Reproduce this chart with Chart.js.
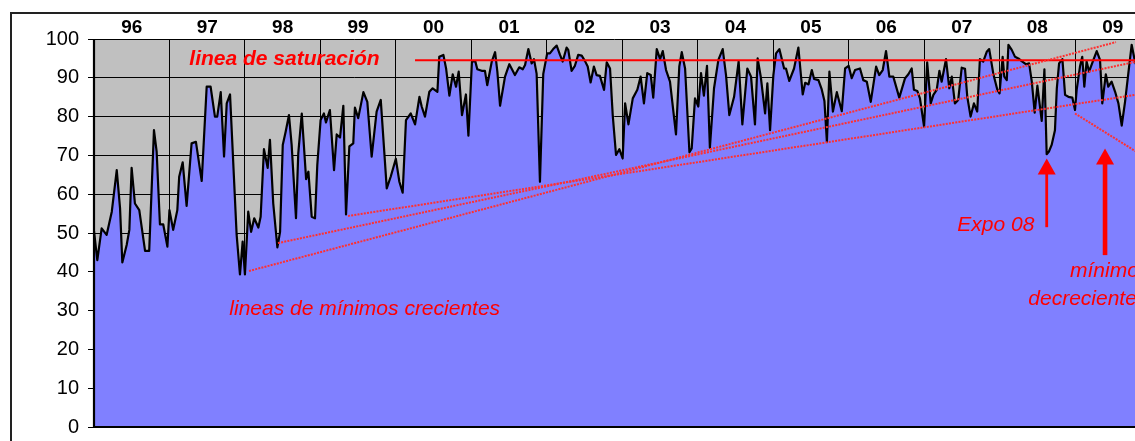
<!DOCTYPE html>
<html>
<head>
<meta charset="utf-8">
<script src="https://cdn.jsdelivr.net/npm/chart.js@4/dist/chart.umd.min.js"></script>
<style>
html,body{margin:0;padding:0;background:#fff;overflow:hidden;}
canvas{display:block;}
</style>
</head>
<body>
<canvas id="c" width="1135" height="441"></canvas>
<script>
// ---- DATA: [day of year, occupancy %] ----
const y1996 = [[0,50.5],[16,43.0],[37,51.2],[61,49.5],[86,55.5],[110,66.2],[126,56.4],[137,42.4],[158,46.9],[171,50.8],[182,66.8],[198,57.6],[219,55.9],[247,45.4],[267,45.4],[290,76.5],[303,71.0],[319,52.2],[335,52.2],[355,46.5]];
const y1997 = [[0,55.9],[18,50.8],[38,55.9],[47,64.5],[64,68.2],[83,57.0],[107,73.1],[128,73.5],[156,63.4],[180,87.7],[199,87.7],[220,80.0],[231,80.0],[248,86.3],[264,69.7],[277,83.4],[293,85.7],[325,49.5],[341,39.3],[354,47.8]];
const y1998 = [[0,39.3],[16,55.5],[30,50.3],[45,53.8],[65,51.4],[76,54.2],[92,71.6],[110,66.8],[121,74.0],[137,57.6],[157,46.3],[170,50.3],[183,72.7],[197,76.1],[213,80.4],[226,72.7],[247,53.8],[258,70.5],[275,80.8],[296,63.9],[307,65.8],[323,54.2],[339,53.8],[350,67.5]];
const y1999 = [[1,79.1],[17,80.8],[27,78.5],[46,81.7],[66,66.2],[79,75.4],[95,74.6],[111,82.8],[124,54.8],[140,72.3],[159,73.1],[167,82.3],[183,79.6],[208,86.3],[227,83.8],[248,69.7],[272,81.3],[292,84.3],[321,61.5],[340,64.5]];
const y2000 = [[0,69.1],[17,63.2],[33,60.4],[49,79.1],[72,80.8],[93,78.0],[114,85.1],[125,82.6],[141,80.0],[162,86.4],[178,87.3],[201,86.4],[210,95.4],[230,95.9],[243,92.4],[259,85.4],[275,90.9],[291,87.7],[304,91.6],[320,80.4],[339,85.7],[351,75.1]];
const y2001 = [[3,94.2],[19,94.3],[29,92.2],[50,91.8],[66,91.8],[77,88.1],[99,94.2],[115,96.6],[126,91.6],[139,82.8],[163,90.3],[184,93.5],[211,90.7],[232,92.7],[249,92.2],[260,93.3],[276,97.4],[292,93.7],[303,94.8],[316,91.0],[332,63.2],[348,91.0]];
const y2002 = [[2,96.3],[15,96.3],[31,97.4],[48,98.3],[64,95.9],[77,94.2],[96,97.8],[104,97.2],[120,91.8],[136,93.1],[152,95.9],[169,95.7],[185,94.3],[198,92.9],[212,88.8],[228,92.9],[241,90.7],[257,90.5],[277,86.9],[290,94.0],[306,92.4],[319,80.4],[335,70.1],[351,71.6]];
const y2003 = [[2,69.2],[14,83.4],[30,78.0],[51,84.7],[73,86.9],[89,90.3],[105,83.4],[121,91.2],[138,90.7],[150,84.9],[167,97.4],[183,94.8],[196,96.9],[212,92.0],[231,89.0],[260,75.4],[276,92.9],[288,96.6],[304,92.4],[325,70.8],[336,71.8],[352,84.7]];
const y2004 = [[3,82.6],[16,91.2],[30,85.4],[45,93.1],[59,72.0],[79,87.3],[100,94.6],[121,97.4],[137,90.7],[153,80.4],[176,85.1],[198,94.2],[216,78.0],[240,92.4],[258,90.3],[277,78.0],[290,95.0],[305,90.3],[326,80.8],[337,88.6],[350,76.5]];
const y2005 = [[1,90.7],[14,96.3],[30,97.4],[53,92.4],[62,92.4],[78,89.2],[101,92.4],[122,97.8],[143,85.7],[155,88.7],[171,88.3],[187,92.0],[198,89.7],[219,89.4],[235,87.0],[248,84.0],[260,73.5],[272,91.6],[289,81.3],[308,86.3],[332,81.4],[348,92.4]];
const y2006 = [[0,93.1],[15,89.9],[31,92.0],[55,92.4],[71,89.4],[88,89.0],[107,83.8],[133,92.9],[148,90.7],[165,92.0],[181,96.9],[197,90.3],[216,90.3],[245,84.9],[273,89.9],[289,90.9],[305,92.4],[316,86.9],[332,86.6],[345,84.7]];
const y2007 = [[0,77.4],[15,94.0],[32,83.4],[45,85.6],[61,86.9],[74,91.8],[85,89.0],[106,94.8],[122,87.3],[134,90.3],[149,83.4],[165,84.3],[182,92.6],[198,92.3],[209,85.1],[225,80.0],[241,83.4],[257,81.3],[270,94.8],[286,94.2],[303,96.7],[315,97.4],[335,91.0],[354,87.0]];
const y2008 = [[0,86.0],[15,95.4],[23,90.3],[35,89.4],[43,98.5],[59,97.2],[75,95.4],[91,95.0],[107,94.3],[127,93.5],[143,93.7],[156,89.0],[170,81.0],[183,88.0],[204,78.9],[217,92.2],[228,70.3],[239,71.0],[252,72.7],[268,76.5],[277,87.3],[288,93.7],[304,94.8],[317,85.6],[333,85.1],[352,84.9]];
const y2009 = [[0,81.7],[8,86.9],[24,92.9],[35,95.4],[45,87.7],[56,94.2],[68,91.6],[77,92.9],[89,94.6],[105,96.9],[121,94.6],[132,83.4],[149,90.9],[161,87.7],[177,89.0],[194,86.4],[210,83.4],[226,77.7],[242,83.8],[258,91.2],[274,98.5],[290,94.2],[305,92.0]];

const years = [1996,1997,1998,1999,2000,2001,2002,2003,2004,2005,2006,2007,2008,2009];
const yearLabels = ['96','97','98','99','00','01','02','03','04','05','06','07','08','09'];
const yTicks = [0,10,20,30,40,50,60,70,80,90,100];
const xMax = 2009.795;

// ---- annotations (data space) ----
const saturation = {from:[2000.254,94.5], to:[2009.8,94.5]};
const minLines = [
  {from:[1998.054,40.2], to:[2009.543,99.2]},
  {from:[1998.438,47.4], to:[2009.8,94.1]},
  {from:[1999.366,54.4], to:[2009.8,85.6]}
];
const decLine = {from:[2009.0,80.8], to:[2009.8,71.1]};
const arrows = [
  {x:2008.625, tip:69.2, tail:51.5, shaft:2.8},
  {x:2009.398, tip:71.8, tail:44.3, shaft:4.6}
];
const labels = [
  {text:'linea de saturación', x:1997.263, y:93.3, bold:true},
  {text:'lineas de mínimos crecientes', x:1997.793, y:28.9},
  {text:'Expo 08', x:2007.44, y:50.6},
  {text:'mínimos', x:2008.934, y:38.7},
  {text:'decrecientes', x:2008.381, y:31.4}
];

const series = [[1996,y1996],[1997,y1997],[1998,y1998],[1999,y1999],[2000,y2000],[2001,y2001],[2002,y2002],[2003,y2003],[2004,y2004],[2005,y2005],[2006,y2006],[2007,y2007],[2008,y2008],[2009,y2009]];
const points = series.flatMap(([yr, arr]) => arr.map(([d, v]) => ({x: yr + d/365, y: v})));

const FONT = '"Liberation Sans", Arial, sans-serif';

const bgPlugin = {
  id: 'bg',
  beforeDraw(chart) {
    const {ctx, chartArea: a} = chart;
    ctx.save();
    ctx.fillStyle = '#fff';
    ctx.fillRect(0, 0, chart.width, chart.height);
    ctx.strokeStyle = '#222';
    ctx.lineWidth = 2;
    ctx.beginPath();
    ctx.moveTo(11, chart.height + 5);
    ctx.lineTo(11, 13);
    ctx.lineTo(chart.width + 5, 13);
    ctx.stroke();
    ctx.fillStyle = '#c0c0c0';
    ctx.fillRect(a.left, a.top, a.right - a.left, a.bottom - a.top);
    ctx.restore();
  }
};

const annoPlugin = {
  id: 'anno',
  afterDatasetsDraw(chart) {
    const {ctx, chartArea: a} = chart;
    const xs = chart.scales.x, ys = chart.scales.y;
    const px = v => xs.getPixelForValue(v), py = v => ys.getPixelForValue(v);
    ctx.save();
    // axis lines
    ctx.strokeStyle = '#000';
    ctx.lineWidth = 2.2;
    ctx.beginPath();
    ctx.moveTo(a.left, a.top);
    ctx.lineTo(a.left, a.bottom);
    ctx.lineTo(a.right + 2, a.bottom);
    ctx.stroke();

    // saturation line
    ctx.strokeStyle = '#ff0000';
    ctx.lineWidth = 2;
    ctx.beginPath();
    ctx.moveTo(px(saturation.from[0]), py(saturation.from[1]));
    ctx.lineTo(px(saturation.to[0]), py(saturation.to[1]));
    ctx.stroke();

    // dotted trend lines
    ctx.strokeStyle = '#ff3030';
    ctx.lineWidth = 2;
    ctx.setLineDash([2, 1.2]);
    [...minLines, decLine].forEach(l => {
      ctx.beginPath();
      ctx.moveTo(px(l.from[0]), py(l.from[1]));
      ctx.lineTo(px(l.to[0]), py(l.to[1]));
      ctx.stroke();
    });
    ctx.setLineDash([]);

    // arrows
    ctx.fillStyle = '#ff0000';
    ctx.strokeStyle = '#ff0000';
    arrows.forEach(ar => {
      const x = px(ar.x), tip = py(ar.tip), tail = py(ar.tail);
      const headLen = 16, headHalf = 9;
      ctx.lineWidth = ar.shaft;
      ctx.beginPath();
      ctx.moveTo(x, tail);
      ctx.lineTo(x, tip + headLen - 1);
      ctx.stroke();
      ctx.beginPath();
      ctx.moveTo(x, tip);
      ctx.lineTo(x - headHalf, tip + headLen);
      ctx.lineTo(x + headHalf, tip + headLen);
      ctx.closePath();
      ctx.fill();
    });

    // texts
    ctx.fillStyle = '#ff0000';
    ctx.textBaseline = 'alphabetic';
    ctx.textAlign = 'left';
    labels.forEach(t => {
      ctx.font = (t.bold ? 'italic bold ' : 'italic ') + '21px ' + FONT;
      ctx.fillText(t.text, px(t.x), py(t.y));
    });
    ctx.restore();
  }
};

new Chart(document.getElementById('c'), {
  type: 'line',
  data: {
    datasets: [{
      data: points,
      fill: 'origin',
      backgroundColor: '#8080ff',
      borderColor: '#000',
      borderWidth: 2.2,
      borderJoinStyle: 'round',
      pointRadius: 0,
      tension: 0
    }]
  },
  options: {
    responsive: false,
    animation: false,
    devicePixelRatio: 1,
    layout: {padding: 0},
    plugins: {legend: {display: false}, tooltip: {enabled: false}},
    scales: {
      x: {
        type: 'linear', position: 'bottom', min: 1996, max: xMax,
        afterBuildTicks: s => { s.ticks = years.map(v => ({value: v})); },
        ticks: {display: false},
        grid: {color: '#000', lineWidth: 1, drawTicks: false},
        border: {display: false},
        afterFit: s => { s.height = 14; s.paddingLeft = 0; s.paddingRight = 0; }
      },
      top: {
        type: 'linear', position: 'top', min: 1996, max: xMax,
        afterBuildTicks: s => { s.ticks = years.map(v => ({value: v + 0.5})); },
        ticks: {
          autoSkip: false, maxRotation: 0, padding: 0, color: '#000',
          font: {family: FONT, size: 19, weight: 'bold'},
          callback: (v, i) => yearLabels[i]
        },
        grid: {display: false, drawTicks: false},
        border: {display: false},
        afterFit: s => { s.height = 39; s.paddingLeft = 0; s.paddingRight = 0; }
      },
      y: {
        min: 0, max: 100,
        afterBuildTicks: s => { s.ticks = yTicks.map(v => ({value: v})); },
        ticks: {padding: 9, color: '#000', font: {family: FONT, size: 20}},
        grid: {color: '#000', lineWidth: 1, tickLength: 6},
        border: {display: false},
        afterFit: s => { s.width = 94; s.paddingTop = 0; s.paddingBottom = 0; }
      }
    }
  },
  plugins: [bgPlugin, annoPlugin]
});
</script>
</body>
</html>
